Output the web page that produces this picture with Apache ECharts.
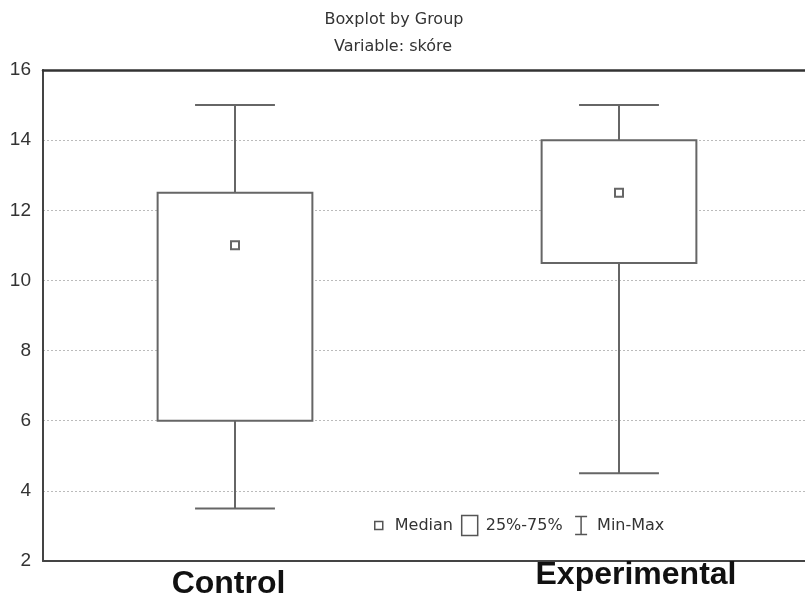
<!DOCTYPE html>
<html>
<head>
<meta charset="utf-8">
<script src="https://cdn.jsdelivr.net/npm/echarts@6/dist/echarts.min.js"></script>
<style>
  html, body { margin: 0; padding: 0; background: #fff; }
  #chart { width: 805px; height: 601px; }
</style>
</head>
<body>
<div id="chart"></div>
<script>
// Score ("skóre") by group: min, quartiles, median, max
const groups = ['Control', 'Experimental'];
const minVals = [3.5, 4.5];
const q1Vals = [6, 10.5];
const medianVals = [11, 12.5];
const q3Vals = [12.5, 14];
const maxVals = [15, 15];
const yTickValues = [2, 4, 6, 8, 10, 12, 14, 16];

const lineColor = '#666';
const boxData = groups.map((g, i) => [i, q1Vals[i], q3Vals[i]]);
const whiskerData = groups.map((g, i) => [i, minVals[i], q1Vals[i], q3Vals[i], maxVals[i]]);
const medianData = groups.map((g, i) => [i, medianVals[i]]);

const chart = echarts.init(document.getElementById('chart'), null, { renderer: 'canvas' });

chart.setOption({
  backgroundColor: '#fff',
  animation: false,
  title: [
    { text: 'Boxplot by Group', left: 394, top: 12, textAlign: 'center', padding: 0,
      textStyle: { fontFamily: 'DejaVu Sans', fontSize: 16, fontWeight: 'normal', color: '#333' } },
    { text: 'Variable: skóre', left: 393, top: 39, textAlign: 'center', padding: 0,
      textStyle: { fontFamily: 'DejaVu Sans', fontSize: 16, fontWeight: 'normal', color: '#333' } }
  ],
  legend: {
    left: 364, top: 508,
    itemWidth: 18, itemHeight: 20, itemGap: 7,
    selectedMode: false,
    textStyle: { fontFamily: 'DejaVu Sans', fontSize: 16, color: '#333', padding: [0, 0, 0, 2] },
    data: [
      { name: 'Median', icon: 'path://M0,0M18,20M5,6h8v8h-8z',
        itemStyle: { color: '#fff', borderColor: '#555', borderWidth: 1.5 } },
      { name: '25%-75%', icon: 'path://M0,0M18,20M1,0h16v20h-16z',
        itemStyle: { color: '#fff', borderColor: '#555', borderWidth: 1.5 } },
      { name: 'Min-Max', icon: 'path://M0,0M18,20M3,1h12M9,1v18M3,19h12',
        itemStyle: { color: 'none', borderColor: '#555', borderWidth: 1.5 } }
    ]
  },
  grid: { left: 43, width: 768, top: 70, bottom: 40, containLabel: false, outerBoundsMode: 'none' },
  xAxis: [
    {
      type: 'category', data: groups, position: 'bottom', boundaryGap: true,
      axisLine: { lineStyle: { color: '#444', width: 2 } },
      axisTick: { inside: true, length: 4, alignWithLabel: true, lineStyle: { color: '#444' } },
      splitLine: { show: false },
      axisLabel: {
        margin: -2,
        formatter: v => (v === 'Control' ? '{a|' + v + '}' : '{b|' + v + '}'),
        rich: {
          a: { fontFamily: 'Liberation Sans', fontSize: 32, fontWeight: 'bold', color: '#111', padding: [9, 13, 0, 0] },
          b: { fontFamily: 'Liberation Sans', fontSize: 32, fontWeight: 'bold', color: '#111', padding: [0, 0, 0, 34] }
        }
      }
    },
    {
      type: 'category', data: groups, position: 'top', boundaryGap: true,
      axisLine: { lineStyle: { color: '#333', width: 2.5 } },
      axisTick: { inside: true, length: 4, alignWithLabel: true, lineStyle: { color: '#444' } },
      axisLabel: { show: false }
    }
  ],
  yAxis: {
    type: 'value', min: yTickValues[0], max: yTickValues[yTickValues.length - 1], interval: 2,
    axisLine: { show: true, lineStyle: { color: '#444', width: 2 } },
    axisTick: { show: false },
    axisLabel: { fontFamily: 'Liberation Sans', fontSize: 19, color: '#333', margin: 12 },
    splitLine: {
      show: true,
      lineStyle: { color: '#bbb', width: 1, type: [2, 2] }
    }
  },
  series: [
    {
      name: 'Min-Max', type: 'custom', coordinateSystem: 'cartesian2d',
      encode: { x: 0, y: [1, 2, 3, 4] },
      data: whiskerData, z: 2,
      renderItem: (params, api) => {
        const x = api.value(0);
        const band = api.size([1, 0])[0];
        const capHalf = band * 0.104;
        const pMin = api.coord([x, api.value(1)]);
        const pQ1 = api.coord([x, api.value(2)]);
        const pQ3 = api.coord([x, api.value(3)]);
        const pMax = api.coord([x, api.value(4)]);
        const st = { stroke: lineColor, lineWidth: 2 };
        return {
          type: 'group',
          children: [
            { type: 'line', shape: { x1: pMax[0], y1: pMax[1], x2: pQ3[0], y2: pQ3[1] }, style: st },
            { type: 'line', shape: { x1: pQ1[0], y1: pQ1[1], x2: pMin[0], y2: pMin[1] }, style: st },
            { type: 'line', shape: { x1: pMax[0] - capHalf, y1: pMax[1], x2: pMax[0] + capHalf, y2: pMax[1] }, style: st },
            { type: 'line', shape: { x1: pMin[0] - capHalf, y1: pMin[1], x2: pMin[0] + capHalf, y2: pMin[1] }, style: st }
          ]
        };
      }
    },
    {
      name: '25%-75%', type: 'custom', coordinateSystem: 'cartesian2d',
      encode: { x: 0, y: [1, 2] },
      data: boxData, z: 3,
      renderItem: (params, api) => {
        const x = api.value(0);
        const band = api.size([1, 0])[0];
        const w = band * 0.403;
        const lo = api.coord([x, api.value(1)]);
        const hi = api.coord([x, api.value(2)]);
        return {
          type: 'rect',
          shape: { x: lo[0] - w / 2, y: hi[1], width: w, height: lo[1] - hi[1] },
          style: { fill: '#fff', stroke: lineColor, lineWidth: 2 }
        };
      }
    },
    {
      name: 'Median', type: 'custom', coordinateSystem: 'cartesian2d',
      encode: { x: 0, y: 1 },
      data: medianData, z: 4,
      renderItem: (params, api) => {
        const p = api.coord([api.value(0), api.value(1)]);
        return {
          type: 'rect',
          shape: { x: p[0] - 4, y: p[1] - 4, width: 8, height: 8 },
          style: { fill: '#fff', stroke: lineColor, lineWidth: 2 }
        };
      }
    }
  ]
});
</script>
</body>
</html>
